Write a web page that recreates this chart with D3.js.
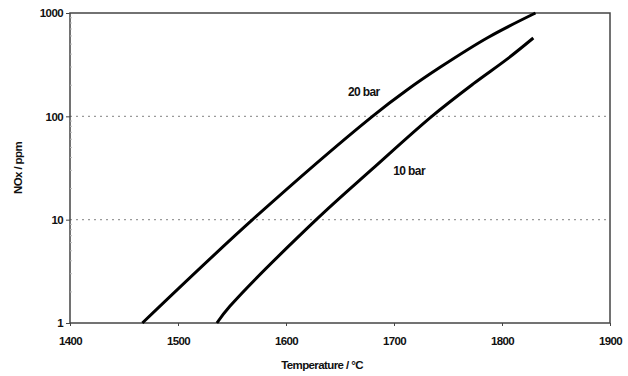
<!DOCTYPE html>
<html lang="en">
<head>
<meta charset="UTF-8">
<title>NOx vs temperature</title>
<style>
  body { margin: 0; background: #fff; }
  svg text { font-family: "Liberation Sans", Arial, sans-serif; font-weight: bold; fill: #111; }
</style>
</head>
<body>
<svg id="chart" width="628" height="376"></svg>
<script src="https://cdn.jsdelivr.net/npm/d3@7/dist/d3.min.js"></script>
<script>
// values
const temp20 = [1467, 1569, 1680, 1712, 1743, 1787, 1831];
const nox20  = [1, 10, 100, 180, 300, 580, 1000];
const temp10 = [1536, 1548, 1628, 1680, 1735, 1773, 1805, 1829];
const nox10  = [1, 1.45, 10, 31, 100, 205, 360, 573];
const xTicks = [1400, 1500, 1600, 1700, 1800, 1900];
const yTicks = [1, 10, 100, 1000];
const gridValues = [10, 100];
const curveLabels = [
  {text: '20 bar', t: 1672, v: 157},
  {text: '10 bar', t: 1714, v: 27}
];

const svg = d3.select('#chart');
const m = {left: 70, right: 610, top: 13, bottom: 323};

const x = d3.scaleLinear().domain([1400, 1900]).range([m.left, m.right]);
const y = d3.scaleLog().domain([1, 1000]).range([m.bottom, m.top]);

// dotted grid
svg.selectAll('.grid').data(gridValues).enter().append('line')
  .attr('x1', m.left).attr('x2', m.right)
  .attr('y1', d => y(d)).attr('y2', d => y(d))
  .attr('stroke', '#9a9a9a').attr('stroke-width', 1.2)
  .attr('stroke-dasharray', '2,4');

// frame
svg.append('rect')
  .attr('x', m.left).attr('y', m.top)
  .attr('width', m.right - m.left).attr('height', m.bottom - m.top)
  .attr('fill', 'none').attr('stroke', '#444').attr('stroke-width', 1.5);

// axes
const xAxis = svg.append('g').attr('transform', `translate(0,${m.bottom})`)
  .call(d3.axisBottom(x).tickValues(xTicks).tickSize(3).tickFormat(d3.format('d')));
const yAxis = svg.append('g').attr('transform', `translate(${m.left},0)`)
  .call(d3.axisLeft(y).tickValues(yTicks).tickSize(4).tickFormat(d3.format('d')));

[xAxis, yAxis].forEach(a => {
  a.select('.domain').remove();
  a.selectAll('line').attr('stroke', '#444');
  a.selectAll('text').attr('font-size', 11.5).style('letter-spacing', '-0.6px');
});
xAxis.selectAll('text').attr('dy', '1.4em');
yAxis.selectAll('text').attr('x', -7);

// minor log ticks inside the left axis
const minor = [];
[1, 10, 100].forEach(b => { for (let k = 2; k <= 9; k++) minor.push(b * k); });
svg.selectAll('.minor').data(minor).enter().append('line')
  .attr('x1', m.left).attr('x2', m.left + 2)
  .attr('y1', d => y(d)).attr('y2', d => y(d))
  .attr('stroke', '#bbb').attr('stroke-width', 1);

// curves
const line = d3.line().x(d => x(d[0])).y(d => y(d[1])).curve(d3.curveCatmullRom);
const series = [d3.zip(temp20, nox20), d3.zip(temp10, nox10)];
svg.selectAll('.curve').data(series).enter().append('path')
  .attr('d', line)
  .attr('fill', 'none').attr('stroke', '#000').attr('stroke-width', 3);

// curve labels
svg.selectAll('.clabel').data(curveLabels).enter().append('text')
  .attr('x', d => x(d.t)).attr('y', d => y(d.v)).attr('text-anchor', 'middle')
  .attr('font-size', 12).style('letter-spacing', '-0.6px').text(d => d.text);

// axis titles
svg.append('text').attr('x', 322).attr('y', 369).attr('text-anchor', 'middle')
  .attr('font-size', 11.5).style('letter-spacing', '-0.6px').text('Temperature / °C');
svg.append('text').attr('transform', `translate(22,168) rotate(-90)`)
  .attr('text-anchor', 'middle').attr('font-size', 11.5).style('letter-spacing', '-0.6px')
  .text('NOx / ppm');
</script>
</body>
</html>
